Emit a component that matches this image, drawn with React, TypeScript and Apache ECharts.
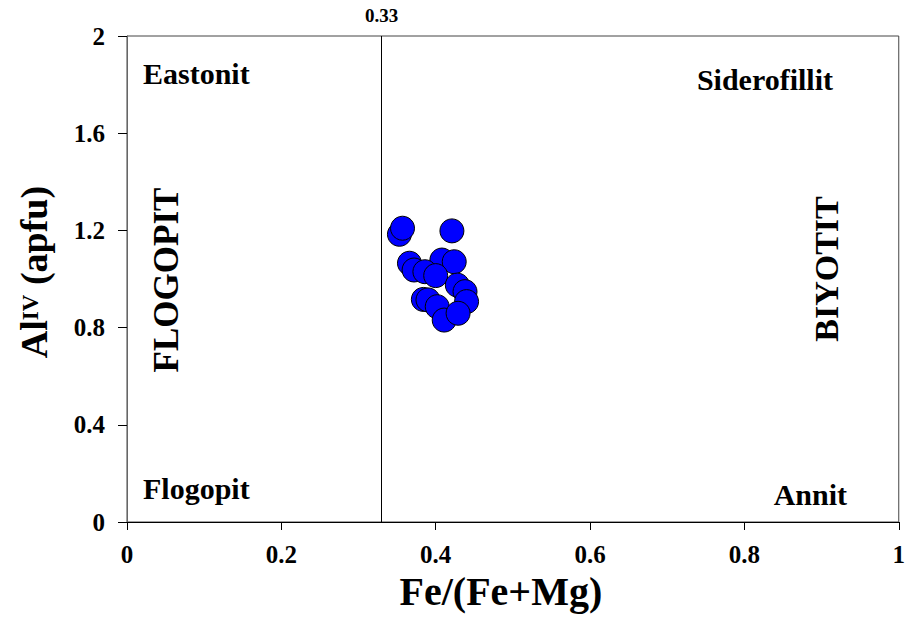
import React, { useEffect, useRef } from "react";
import * as echarts from "echarts";

const xValues: number[] = [0.353, 0.357, 0.421, 0.366, 0.372, 0.408, 0.424, 0.386, 0.4, 0.428, 0.438, 0.44, 0.384, 0.39, 0.402, 0.411, 0.429];
const yValues: number[] = [1.184, 1.209, 1.198, 1.065, 1.037, 1.078, 1.071, 1.03, 1.014, 0.975, 0.948, 0.907, 0.916, 0.914, 0.886, 0.831, 0.859];
const dividerX = 0.333;
const dividerLabel = "0.33";
const xTicks = { min: 0, max: 1, interval: 0.2 };
const yTicks = { min: 0, max: 2, interval: 0.4 };

const FONT = "Liberation Serif";

export default function App() {
  const ref = useRef<HTMLDivElement>(null);
  useEffect(() => {
    if (!ref.current) return;
    const chart = echarts.init(ref.current, null, { renderer: "svg" });
    const points = xValues.map((x, i) => [x, yValues[i]]);
    const fmt = (v: number) => (v === 0 || v === 1 || v === 2 ? String(v) : String(Math.round(v * 10) / 10));
    const annot = (text: string, x: number, y: number, size: number, align = "left", rotation = 0) => ({
      type: "text",
      x,
      y,
      rotation,
      style: {
        text,
        fontFamily: FONT,
        fontWeight: "bold",
        fontSize: size,
        fill: "#000",
        textAlign: align,
        textVerticalAlign: "middle",
      },
      z: 10,
    });
    chart.setOption({
      animation: false,
      backgroundColor: "#fff",
      textStyle: { fontFamily: FONT },
      grid: { left: 127, right: 9, top: 36, bottom: 104, show: true, borderColor: "#444", borderWidth: 1 },
      xAxis: {
        type: "value",
        min: xTicks.min,
        max: xTicks.max,
        interval: xTicks.interval,
        name: "Fe/(Fe+Mg)",
        nameLocation: "middle",
        nameGap: 48,
        nameTextStyle: { fontFamily: FONT, fontWeight: "bold", fontSize: 40, color: "#000", padding: [0, 24, 0, 0] },
        splitLine: { show: false },
        axisLine: { onZero: false, lineStyle: { color: "#000", width: 1 } },
        axisTick: { inside: false, length: 8, lineStyle: { color: "#000" } },
        axisLabel: { formatter: fmt, margin: 20, fontFamily: FONT, fontWeight: "bold", fontSize: 25, color: "#000" },
      },
      yAxis: {
        type: "value",
        min: yTicks.min,
        max: yTicks.max,
        interval: yTicks.interval,
        name: "{a|Al}{s|IV}{a| (apfu)}",
        nameLocation: "middle",
        nameGap: 74,
        nameRotate: 90,
        nameTextStyle: {
          fontFamily: FONT,
          fontWeight: "bold",
          color: "#000",
          padding: [0, 0, 0, 14],
          rich: {
            a: { fontFamily: FONT, fontWeight: "bold", fontSize: 38, color: "#000" },
            s: { fontFamily: FONT, fontWeight: "bold", fontSize: 23, color: "#000", verticalAlign: "top", padding: [4, 0, 0, 0] },
          },
        },
        splitLine: { show: false },
        axisLine: { onZero: false, lineStyle: { color: "#666", width: 1 } },
        axisTick: { inside: false, length: 9, lineStyle: { color: "#000" } },
        axisLabel: { formatter: fmt, margin: 22, fontFamily: FONT, fontWeight: "bold", fontSize: 25, color: "#000" },
      },
      series: [
        {
          type: "scatter",
          data: points,
          symbol: "circle",
          symbolSize: 24,
          itemStyle: { color: "#0000FF", borderColor: "#000", borderWidth: 1, opacity: 1 },
          markLine: {
            silent: true,
            symbol: ["none", "none"],
            lineStyle: { color: "#000", width: 1, type: "solid" },
            label: {
              show: true,
              position: "end",
              distance: 11,
              formatter: dividerLabel,
              fontFamily: FONT,
              fontWeight: "bold",
              fontSize: 19,
              color: "#000",
            },
            data: [{ xAxis: dividerX }],
          },
        },
      ],
      graphic: [
        annot("Eastonit", 143, 73, 30),
        annot("Siderofillit", 833, 79, 30, "right"),
        annot("Flogopit", 143, 488, 30),
        annot("Annit", 847, 494, 30, "right"),
        annot("FLOGOPIT", 166, 280, 35, "center", Math.PI / 2),
        annot("BIYOTIT", 826, 269, 34, "center", Math.PI / 2),
      ],
    });
    return () => chart.dispose();
  }, []);
  return <div ref={ref} style={{ position: "absolute", left: 0, top: 0, width: 908, height: 626 }} />;
}
